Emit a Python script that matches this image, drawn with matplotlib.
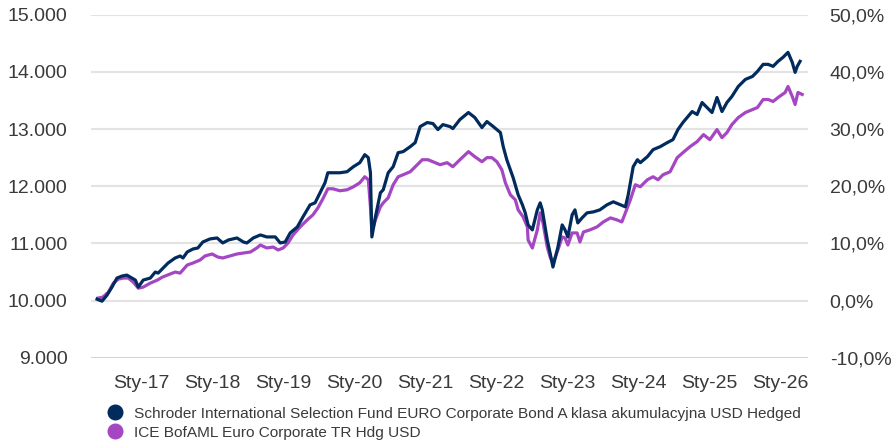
import matplotlib
matplotlib.use("Agg")
import matplotlib.pyplot as plt
from matplotlib.lines import Line2D
from matplotlib.ticker import FuncFormatter, FixedLocator

plt.rcParams['font.family'] = ['Liberation Sans', 'DejaVu Sans']

# ---- data (decimal years, values of 10 000 invested) ----
fund_dates = [2016.38, 2016.45, 2016.52, 2016.59, 2016.66, 2016.73, 2016.80, 2016.87, 2016.92, 2016.96,
              2017.03, 2017.13, 2017.20, 2017.24, 2017.31, 2017.38, 2017.48, 2017.55, 2017.59, 2017.65,
              2017.73, 2017.80, 2017.87, 2017.97, 2018.07, 2018.15, 2018.23, 2018.35, 2018.44, 2018.49,
              2018.58, 2018.68, 2018.77, 2018.89, 2018.96, 2019.03, 2019.10, 2019.20, 2019.28, 2019.38,
              2019.45, 2019.52, 2019.59, 2019.63, 2019.70, 2019.80, 2019.90, 2019.99, 2020.08, 2020.15,
              2020.20, 2020.23, 2020.25, 2020.30, 2020.37, 2020.41, 2020.48, 2020.55, 2020.62, 2020.69,
              2020.79, 2020.86, 2020.93, 2021.03, 2021.11, 2021.18, 2021.25, 2021.35, 2021.39, 2021.49,
              2021.61, 2021.70, 2021.80, 2021.87, 2021.96, 2022.06, 2022.10, 2022.15, 2022.24, 2022.31,
              2022.37, 2022.41, 2022.45, 2022.51, 2022.58, 2022.62, 2022.65, 2022.72, 2022.76, 2022.80,
              2022.87, 2022.93, 2022.97, 2023.01, 2023.07, 2023.11, 2023.15, 2023.21, 2023.28, 2023.37,
              2023.46, 2023.56, 2023.65, 2023.75, 2023.82, 2023.86, 2023.93, 2023.99, 2024.03, 2024.13,
              2024.21, 2024.31, 2024.41, 2024.49, 2024.56, 2024.63, 2024.70, 2024.76, 2024.83, 2024.90,
              2024.97, 2025.04, 2025.11, 2025.18, 2025.25, 2025.32, 2025.41, 2025.51, 2025.61, 2025.68,
              2025.76, 2025.83, 2025.90, 2025.97, 2026.04, 2026.11, 2026.17, 2026.21, 2026.24, 2026.28]
fund_values = [10026, 9991, 10096, 10237, 10395, 10430, 10447, 10395, 10360, 10237,
               10360, 10395, 10500, 10482, 10570, 10658, 10746, 10781, 10746, 10851,
               10903, 10921, 11026, 11079, 11096, 11009, 11061, 11096, 11026, 11009,
               11096, 11149, 11114, 11114, 11009, 11026, 11184, 11289, 11465, 11675,
               11710, 11886, 12061, 12236, 12236, 12236, 12254, 12342, 12412, 12552,
               12500, 12236, 11114, 11465, 11886, 11938, 12236, 12342, 12587, 12605,
               12692, 12763, 13043, 13114, 13096, 12991, 13078, 13043, 13008, 13166,
               13289, 13201, 13026, 13131, 13043, 12938, 12692, 12464, 12148, 11851,
               11675, 11535, 11324, 11237, 11587, 11710, 11587, 11061, 10833, 10588,
               10938, 11324, 11237, 11114, 11500, 11587, 11359, 11447, 11535, 11552,
               11587, 11675, 11728, 11675, 11640, 11851, 12342, 12464, 12412, 12517,
               12640, 12692, 12763, 12815, 12991, 13114, 13219, 13306, 13254, 13464,
               13377, 13289, 13552, 13306, 13464, 13570, 13745, 13868, 13920, 14008,
               14131, 14131, 14096, 14184, 14254, 14341, 14166, 13991, 14096, 14184]

bench_dates = [2016.39, 2016.46, 2016.54, 2016.61, 2016.68, 2016.75, 2016.82, 2016.89, 2016.96, 2017.03,
               2017.13, 2017.23, 2017.30, 2017.37, 2017.48, 2017.55, 2017.65, 2017.73, 2017.83, 2017.90,
               2018.00, 2018.08, 2018.15, 2018.25, 2018.35, 2018.44, 2018.54, 2018.63, 2018.68, 2018.77,
               2018.86, 2018.93, 2019.00, 2019.07, 2019.14, 2019.24, 2019.34, 2019.42, 2019.49, 2019.56,
               2019.63, 2019.70, 2019.80, 2019.90, 2019.99, 2020.08, 2020.15, 2020.20, 2020.23, 2020.25,
               2020.30, 2020.37, 2020.41, 2020.48, 2020.55, 2020.62, 2020.69, 2020.79, 2020.89, 2020.96,
               2021.04, 2021.11, 2021.21, 2021.31, 2021.39, 2021.49, 2021.61, 2021.70, 2021.80, 2021.87,
               2021.94, 2022.01, 2022.08, 2022.13, 2022.20, 2022.27, 2022.31, 2022.38, 2022.44, 2022.45,
               2022.51, 2022.58, 2022.62, 2022.66, 2022.72, 2022.76, 2022.80, 2022.87, 2022.93, 2022.97,
               2023.01, 2023.07, 2023.14, 2023.18, 2023.23, 2023.32, 2023.42, 2023.51, 2023.61, 2023.70,
               2023.77, 2023.82, 2023.89, 2023.96, 2024.03, 2024.13, 2024.21, 2024.28, 2024.35, 2024.45,
               2024.55, 2024.63, 2024.73, 2024.83, 2024.92, 2025.01, 2025.11, 2025.18, 2025.25, 2025.32,
               2025.41, 2025.51, 2025.61, 2025.68, 2025.76, 2025.83, 2025.90, 2025.97, 2026.07, 2026.11,
               2026.17, 2026.21, 2026.25, 2026.31]
bench_values = [10044, 10061, 10149, 10307, 10377, 10395, 10395, 10324, 10219, 10237,
                10307, 10360, 10412, 10447, 10500, 10482, 10623, 10658, 10710, 10781,
                10816, 10763, 10746, 10781, 10816, 10833, 10851, 10921, 10973, 10921,
                10938, 10886, 10921, 11009, 11149, 11289, 11412, 11500, 11622, 11780,
                11956, 11956, 11921, 11938, 11991, 12061, 12166, 12114, 11640, 11201,
                11412, 11640, 11710, 11798, 12026, 12166, 12201, 12254, 12377, 12464,
                12464, 12429, 12377, 12412, 12342, 12464, 12605, 12517, 12429, 12500,
                12500, 12429, 12289, 12061, 11851, 11763, 11587, 11465, 11289, 11061,
                10921, 11237, 11535, 11359, 10938, 10763, 10658, 10886, 11114, 11096,
                10973, 11184, 11184, 11026, 11201, 11237, 11289, 11377, 11447, 11412,
                11377, 11535, 11763, 12026, 11991, 12114, 12166, 12114, 12201, 12254,
                12500, 12587, 12692, 12780, 12903, 12815, 12991, 12850, 12938, 13078,
                13201, 13289, 13341, 13377, 13517, 13517, 13482, 13552, 13640, 13745,
                13570, 13429, 13640, 13605]

tick_years = [2017, 2018, 2019, 2020, 2021, 2022, 2023, 2024, 2025, 2026]
tick_labels = ['Sty-17', 'Sty-18', 'Sty-19', 'Sty-20', 'Sty-21', 'Sty-22',
               'Sty-23', 'Sty-24', 'Sty-25', 'Sty-26']
left_ticks = [9000, 10000, 11000, 12000, 13000, 14000, 15000]
right_ticks = [-10, 0, 10, 20, 30, 40, 50]
series_names = ['Schroder International Selection Fund EURO Corporate Bond A klasa akumulacyjna USD Hedged',
                'ICE BofAML Euro Corporate TR Hdg USD']

NAVY = '#002B5C'
PURPLE = '#A546C3'
TXT = '#3a3a3a'

fig = plt.figure(figsize=(8.93, 4.44), dpi=100)
ax = fig.add_axes([0.102, 0.194, 0.803, 0.773])

ax.plot(bench_dates, bench_values, color=PURPLE, lw=2.3, solid_joinstyle='round', zorder=3)
ax.plot(fund_dates, fund_values, color=NAVY, lw=2.3, solid_joinstyle='round', zorder=4)

ax.set_xlim(2016.296, 2026.394)
ax.set_ylim(9000, 15000)
ax.yaxis.set_major_locator(FixedLocator(left_ticks))
ax.yaxis.set_major_formatter(FuncFormatter(lambda v, p: f"{int(v):,}".replace(',', '.')))
ax.set_xticks(tick_years)
ax.set_xticklabels(tick_labels)
for t in left_ticks:
    ax.axhline(t, color='#d4d4d4' if t == 9000 else '#e3e3e3', lw=1.5, zorder=1)
for s in ax.spines.values():
    s.set_visible(False)
ax.tick_params(axis='both', length=0, labelsize=14, colors=TXT)
ax.tick_params(axis='y', pad=17)
ax.tick_params(axis='x', pad=12)

ax2 = ax.twinx()
ax2.set_ylim(-10, 50)
ax2.yaxis.set_major_locator(FixedLocator(right_ticks))
ax2.yaxis.set_major_formatter(FuncFormatter(lambda v, p: f"{v:.1f}%".replace('.', ',')))
for s in ax2.spines.values():
    s.set_visible(False)
ax2.tick_params(axis='y', length=0, labelsize=14, colors=TXT, pad=15.5)

handles = [Line2D([], [], ls='none', marker='o', markersize=10.5, color=NAVY),
           Line2D([], [], ls='none', marker='o', markersize=10.5, color=PURPLE)]
fig.legend(handles, series_names, loc='upper left', bbox_to_anchor=(0.121, 0.084),
           frameon=False, handlelength=0.9, handletextpad=0.78, labelspacing=0.33,
           borderpad=0, borderaxespad=0,
           prop={'family': ['Liberation Sans', 'DejaVu Sans'], 'size': 11.1},
           labelcolor=TXT)

fig.savefig('out.png', dpi=100, facecolor='white')
